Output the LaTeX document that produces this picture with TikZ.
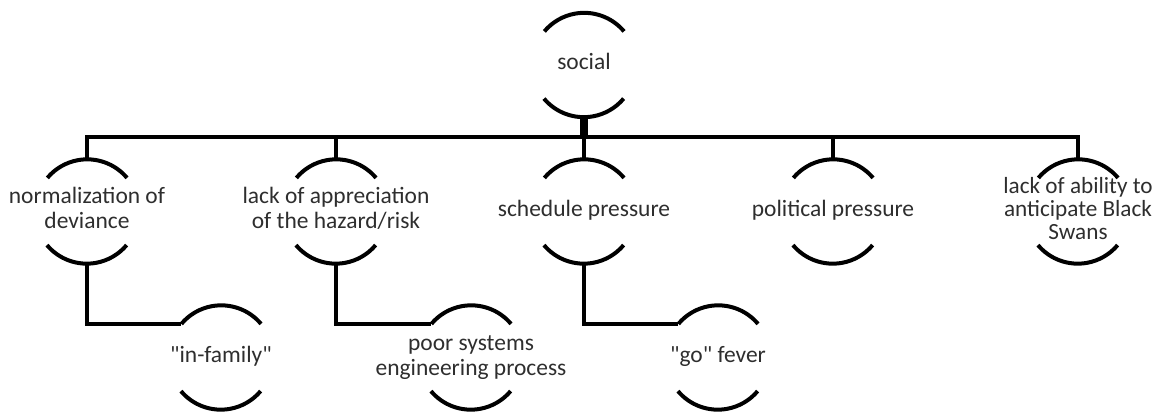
\documentclass[tikz,border=0pt]{standalone}
\usepackage{fontspec}
\setmainfont{Carlito}[Ligatures=TeXOff]
\newcommand{\nodetext}[1]{\makebox[0pt][c]{\begin{tabular}{@{}c@{}}#1\end{tabular}}}
\begin{document}
\begin{tikzpicture}[x=0.75pt,y=0.75pt,
  topic/.style={circle,minimum size=78pt,inner sep=0pt,
    text=black!82,font=\fontsize{17.6}{18.75}\selectfont},
  bracket/.style={line width=3pt,draw=black},
  link/.style={line width=3.4pt,draw=black},
  trunk/.style={line width=6pt,draw=black}]
\useasboundingbox (0,0) rectangle (1171,-413);

% root
\node[topic] (soc) at (584,-65) {\nodetext{social}};

% first level
\node[topic] (n1) at (87,-211.5)   {\nodetext{normalization of\\deviance}};
\node[topic] (n2) at (336,-211.5)  {\nodetext{lack of appreciation\\of the hazard/risk}};
\node[topic] (n3) at (584,-211.5)  {\nodetext{schedule pressure}};
\node[topic] (n4) at (833,-211.5)  {\nodetext{political pressure}};
\node[topic,font=\fontsize{17.4}{17.3}\selectfont] (n5) at (1078,-211.5)
  {\nodetext{\raisebox{2.5pt}{\begin{tabular}{@{}c@{}}lack of ability to\\anticipate Black\\Swans\end{tabular}}}};

% second level
\node[topic] (c1) at (221,-357.5) {\nodetext{"in-family"}};
\node[topic] (c2) at (471,-357.5) {\nodetext{poor systems\\engineering process}};
\node[topic] (c3) at (718,-357.5) {\nodetext{"go" fever}};

% bracket arcs above and below every topic
\foreach \n in {soc,n1,n2,n3,n4,n5,c1,c2,c3}{
  \draw[bracket] (\n.40) arc[start angle=40,end angle=140,radius=52];
  \draw[bracket] (\n.220) arc[start angle=220,end angle=320,radius=52];
}

% horizontal bus under the root
\coordinate (bus) at (584,-137);
\draw[trunk] (soc.south) -- (bus);
\draw[link] (n1.north) -- (n1.north |- bus) -- (n5.north |- bus) -- (n5.north);
\foreach \n in {n2,n3,n4}
  \draw[link] (\n.north) -- (\n.north |- bus);

% elbow links to the second level
\draw[link] (n1.south) |- (c1.140);
\draw[link] (n2.south) |- (c2.140);
\draw[link] (n3.south) |- (c3.140);
\end{tikzpicture}
\end{document}
